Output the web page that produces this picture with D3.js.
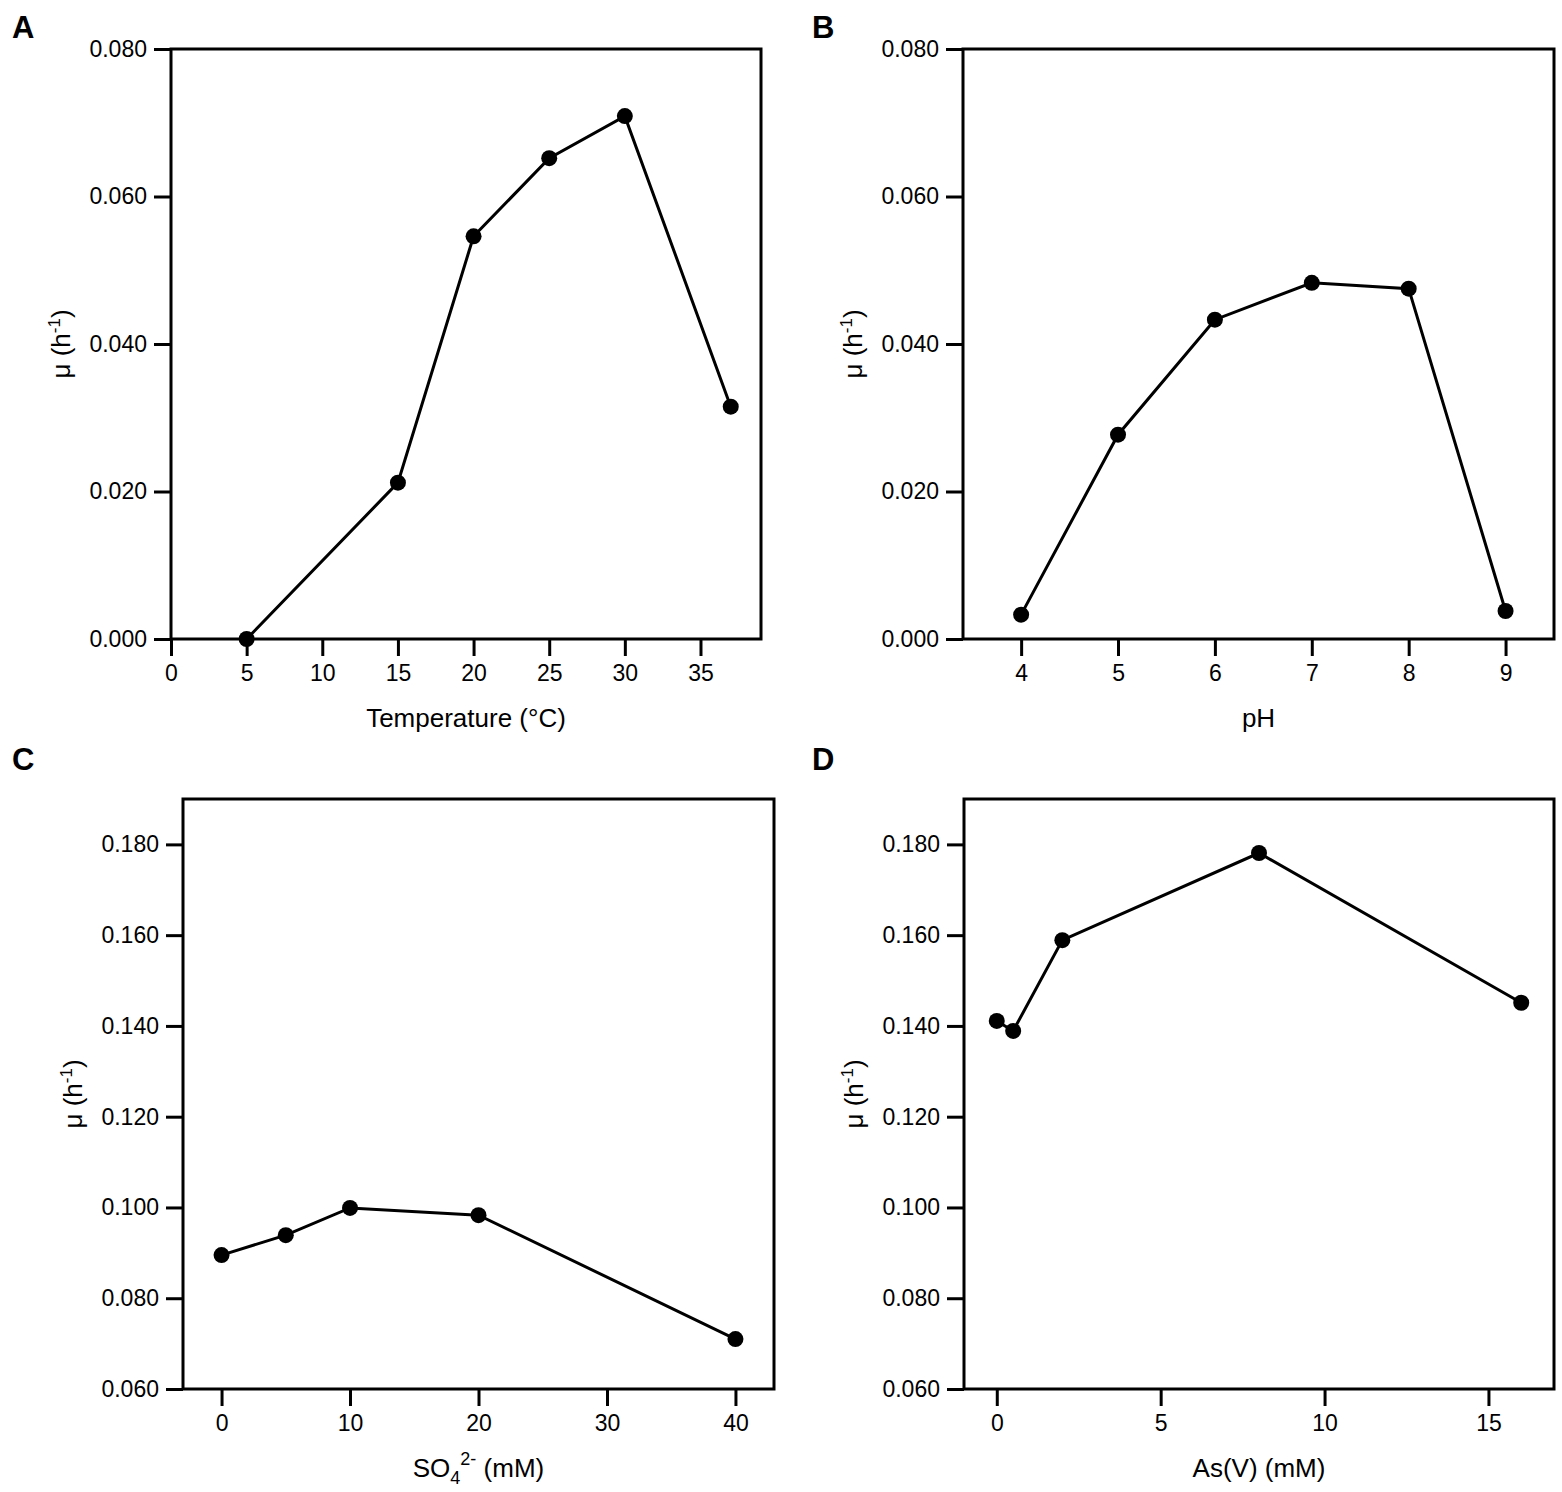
<!DOCTYPE html>
<html>
<head>
<meta charset="utf-8">
<script src="https://cdn.jsdelivr.net/npm/d3@7"></script>
<style>
    body { margin: 0; background: #fff; }
    svg { display: block; font-family: "Liberation Sans", Arial, sans-serif; }
</style>
</head>
<body>
<div id="chart"></div>
<script>
// Panel A: temperature
const tempX = [5, 15, 20, 25, 30, 37];
const tempMu = [0.0000, 0.0212, 0.0546, 0.0652, 0.0709, 0.0315];
const tempTicks = [0, 5, 10, 15, 20, 25, 30, 35];

// Panel B: pH
const phX = [4, 5, 6, 7, 8, 9];
const phMu = [0.0033, 0.0277, 0.0433, 0.0483, 0.0475, 0.0038];
const phTicks = [4, 5, 6, 7, 8, 9];

// Panel C: sulfate
const so4X = [0, 5, 10, 20, 40];
const so4Mu = [0.0895, 0.0939, 0.0999, 0.0983, 0.0710];
const so4Ticks = [0, 10, 20, 30, 40];

// Panel D: arsenate
const asX = [0, 0.5, 2, 8, 16];
const asMu = [0.1411, 0.1389, 0.1589, 0.1781, 0.1451];
const asTicks = [0, 5, 10, 15];

const muTicksLow = [0, 0.02, 0.04, 0.06, 0.08];
const muTicksHigh = [0.06, 0.08, 0.10, 0.12, 0.14, 0.16, 0.18];

class LinePanel {
    constructor(_config, _x, _y) {
        this.config = _config;
        this.data = _x.map((d, i) => ({x: d, y: _y[i]}));
        this.initVis();
    }

    initVis() {
        let vis = this;
        const c = vis.config;
        const width = c.right - c.left;
        const height = c.bottom - c.top;

        vis.g = c.svg.append('g')
            .attr('transform', `translate(${c.left},${c.top})`);

        vis.x = d3.scaleLinear().domain(c.xDomain).range([0, width]);
        vis.y = d3.scaleLinear().domain(c.yDomain).range([height, 0]);

        // Axes
        const xAxis = vis.g.append('g')
            .attr('transform', `translate(0,${height})`)
            .call(d3.axisBottom(vis.x).tickValues(c.xTicks).tickFormat(d3.format('d'))
                .tickSize(17).tickPadding(9));
        const yAxis = vis.g.append('g')
            .call(d3.axisLeft(vis.y).tickValues(c.yTicks).tickFormat(d3.format('.3f'))
                .tickSize(17).tickPadding(7));

        [xAxis, yAxis].forEach(a => {
            a.select('.domain').remove();
            a.selectAll('line').attr('stroke', '#000').attr('stroke-width', 3);
            a.selectAll('text')
                .attr('fill', '#000')
                .style('font-size', '23px')
                .style('font-family', '"Liberation Sans", Arial, sans-serif');
        });

        // Frame
        vis.g.append('rect')
            .attr('x', 0).attr('y', 0)
            .attr('width', width).attr('height', height)
            .attr('fill', 'none')
            .attr('stroke', '#000')
            .attr('stroke-width', 3);

        // Line and markers
        const line = d3.line().x(d => vis.x(d.x)).y(d => vis.y(d.y));
        vis.g.append('path')
            .datum(vis.data)
            .attr('d', line)
            .attr('fill', 'none')
            .attr('stroke', '#000')
            .attr('stroke-width', 3);

        vis.g.selectAll('circle')
            .data(vis.data)
            .join('circle')
            .attr('cx', d => vis.x(d.x))
            .attr('cy', d => vis.y(d.y))
            .attr('r', 8)
            .attr('fill', '#000');

        // Y title: μ (h^-1)
        const yt = vis.g.append('text')
            .attr('transform', `translate(-101,${height / 2}) rotate(-90)`)
            .attr('text-anchor', 'middle')
            .style('font-size', '26px');
        yt.append('tspan').text('μ (h');
        yt.append('tspan').attr('dy', -10).style('font-size', '17px').text('-1');
        yt.append('tspan').attr('dy', 10).text(')');

        // X title
        const xt = vis.g.append('text')
            .attr('x', width / 2)
            .attr('y', height + 88)
            .attr('text-anchor', 'middle')
            .style('font-size', '26px');
        c.xTitle(xt);

        // Panel letter
        c.svg.append('text')
            .attr('x', c.letterX)
            .attr('y', c.letterY)
            .style('font-size', '31px')
            .style('font-weight', 'bold')
            .text(c.letter);
    }
}

const svg = d3.select('#chart').append('svg')
    .attr('width', 1562)
    .attr('height', 1492);

new LinePanel({
    svg: svg, left: 171, right: 761, top: 49, bottom: 639,
    xDomain: [0, 39], yDomain: [0, 0.08], xTicks: tempTicks, yTicks: muTicksLow,
    letter: 'A', letterX: 12, letterY: 38,
    xTitle: t => t.text('Temperature (°C)')
}, tempX, tempMu);

new LinePanel({
    svg: svg, left: 963, right: 1554, top: 49, bottom: 639,
    xDomain: [3.4, 9.5], yDomain: [0, 0.08], xTicks: phTicks, yTicks: muTicksLow,
    letter: 'B', letterX: 812, letterY: 38,
    xTitle: t => t.text('pH')
}, phX, phMu);

new LinePanel({
    svg: svg, left: 183, right: 774, top: 799, bottom: 1389,
    xDomain: [-3, 43], yDomain: [0.06, 0.19], xTicks: so4Ticks, yTicks: muTicksHigh,
    letter: 'C', letterX: 12, letterY: 770,
    xTitle: t => {
        t.append('tspan').text('SO');
        t.append('tspan').attr('dy', 7).style('font-size', '18px').text('4');
        t.append('tspan').attr('dy', -19).style('font-size', '18px').text('2-');
        t.append('tspan').attr('dy', 12).text(' (mM)');
    }
}, so4X, so4Mu);

new LinePanel({
    svg: svg, left: 964, right: 1554, top: 799, bottom: 1389,
    xDomain: [-1, 17], yDomain: [0.06, 0.19], xTicks: asTicks, yTicks: muTicksHigh,
    letter: 'D', letterX: 812, letterY: 770,
    xTitle: t => t.text('As(V) (mM)')
}, asX, asMu);
</script>
</body>
</html>
